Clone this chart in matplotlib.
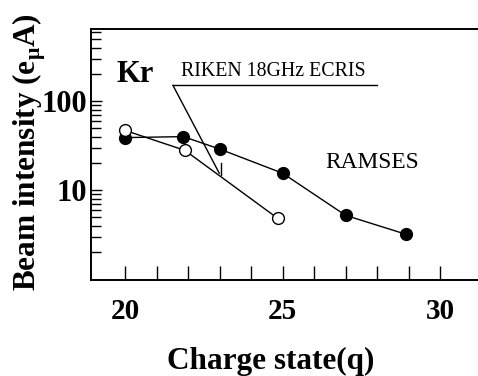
import numpy as np
import matplotlib.pyplot as plt
from matplotlib.ticker import LogLocator, NullFormatter, FixedLocator

# RAMSES (filled circles)
ramses_q = [20, 21.85, 23, 25, 27, 28.9]
ramses_i = [39, 40, 29, 15.5, 5.2, 3.2]

# RIKEN 18GHz ECRIS (open circles)
riken_q = [20, 21.9, 24.85]
riken_i = [47, 28, 4.8]

serif = ['Liberation Serif', 'DejaVu Serif']
plt.rcParams['font.family'] = serif

fig = plt.figure(figsize=(4.78, 3.76), dpi=100)
ax = fig.add_axes([0.1904, 0.2553, 0.8096, 0.6676])

ax.plot(ramses_q, ramses_i, '-o', color='black', lw=1.0,
        markersize=8.5, markerfacecolor='black', zorder=3)
ax.plot(riken_q, riken_i, '-o', color='black', lw=1.0,
        markersize=8.5, markerfacecolor='white', zorder=4)

ax.set_yscale('log')
ax.set_xlim(18.92, 31.2)
ax.set_ylim(0.975, 650)

ax.xaxis.set_major_locator(FixedLocator(range(20, 31)))
ax.set_xticklabels([str(q) if q % 5 == 0 else '' for q in range(20, 31)],
                   fontsize=21, fontweight='bold')
ax.set_yticks([10, 100])
ax.set_yticklabels(['10', '100'], fontsize=22, fontweight='bold')
ax.yaxis.set_minor_locator(LogLocator(base=10, subs=np.arange(2, 10)))
ax.yaxis.set_minor_formatter(NullFormatter())

ax.tick_params(axis='x', direction='in', length=10, width=1, pad=13)
ax.tick_params(axis='y', which='major', direction='in', length=8, width=1, pad=3)
ax.tick_params(axis='y', which='minor', direction='in', length=7, width=1)

ax.spines['right'].set_visible(False)
for s in ['left', 'bottom', 'top']:
    ax.spines[s].set_linewidth(1.4)

ax.set_xlabel('Charge state(q)', fontsize=22.5, fontweight='bold')
ax.set_ylabel('Beam intensity (e$_{\\mathregular{μ}}$A)', fontsize=22.5,
              fontweight='bold')
ax.xaxis.set_label_coords(0.464, -0.265)
ax.yaxis.set_label_coords(-0.112, 0.51)

# annotations
ax.text(19.73, 200, 'Kr', fontsize=22, fontweight='bold', ha='left', va='center')
ax.text(24.7, 217, 'RIKEN 18GHz ECRIS', fontsize=14.3, ha='center', va='center')
ax.plot([21.52, 28.0], [151, 151], color='black', lw=1.0)
ax.plot([21.52, 22.99], [151, 15.5], color='black', lw=1.0)
ax.plot([23.05, 23.05], [14.7, 20.1], color='black', lw=1.0)
ax.text(26.35, 20.7, 'RAMSES', fontsize=16.8, ha='left', va='center')

fig.savefig('out.png', dpi=100)
